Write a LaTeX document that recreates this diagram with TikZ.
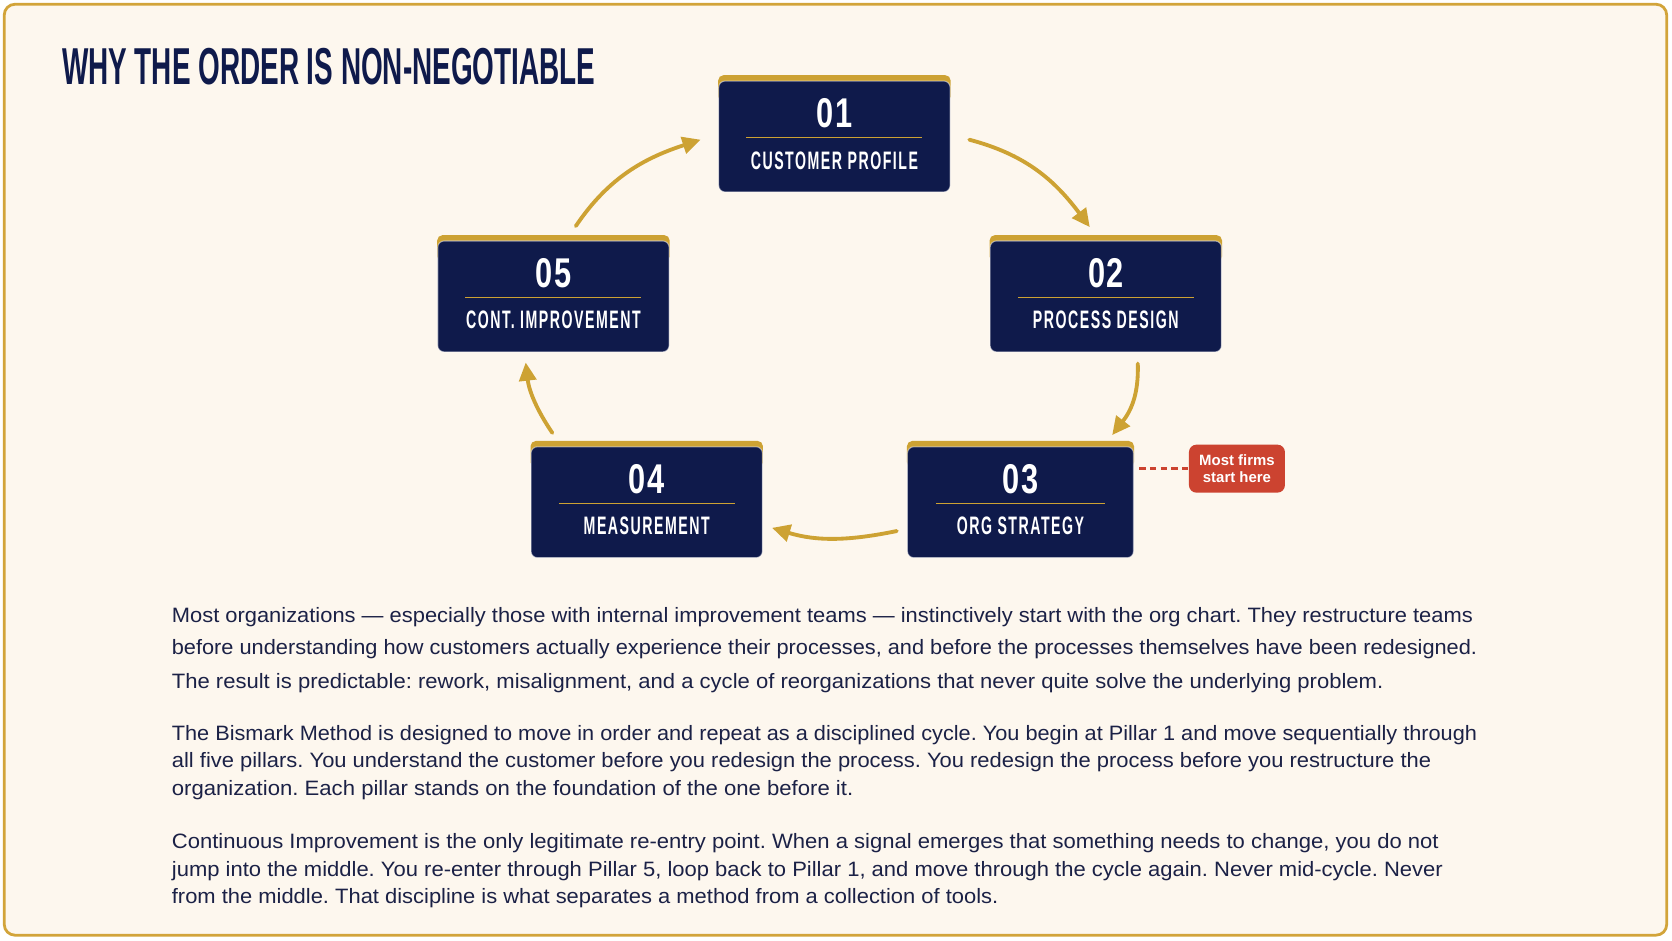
\documentclass[tikz,border=0pt]{standalone}
\usepackage{fontspec}
\usepackage{graphicx}
\usetikzlibrary{arrows.meta,backgrounds,calc}
\setmainfont{Liberation Sans}
\frenchspacing
\newfontfamily\labfont[FakeStretch=0.56, LetterSpace=6]{Liberation Sans}
\newfontfamily\numfont[FakeStretch=0.74, LetterSpace=3]{Liberation Sans}
\definecolor{navy}{HTML}{0F1A4B}
\definecolor{gold}{HTML}{CDA233}
\definecolor{bordergold}{HTML}{D2A43A}
\definecolor{cream}{HTML}{FDF7EE}
\definecolor{bodytext}{HTML}{1B2146}
\definecolor{alertred}{HTML}{CC4330}
\newcommand\pnum[1]{{\numfont\bfseries\fontsize{39}{39}\selectfont #1}}
\newcommand\plab[1]{{\labfont\bfseries\fontsize{23.7}{24}\selectfont #1}}
\newcommand\bline[2]{\resizebox{#1}{\height}{#2}}
\tikzset{
  pillar/.style={fill=navy, rounded corners=6pt, minimum width=217pt, minimum height=104pt, inner sep=0pt, draw=white, draw opacity=0.5, line width=1pt},
  numtxt/.style={text=white, inner sep=0pt, anchor=base},
  labtxt/.style={text=white, inner sep=0pt, anchor=base},
  flow/.style={draw=gold, line width=3.6pt, line cap=round, -{Triangle[length=17pt,width=16pt]}},
  bodyline/.style={text=bodytext, inner sep=0pt, anchor=base west, font=\fontsize{19.5}{22}\selectfont},
  alert/.style={fill=alertred, rounded corners=7pt, minimum width=90pt, minimum height=45pt, inner sep=0pt, text=white, align=center, font=\bfseries\fontsize{14}{16}\selectfont},
}
\newcommand\pillarcontent[4]{%
  % #1 node name, #2 number, #3 label, #4 half divider width
  \begin{pgfonlayer}{background}
    \fill[gold, rounded corners=5pt] ([yshift=5pt]#1.north west) rectangle ([yshift=-20pt]#1.north east);
  \end{pgfonlayer}
  \draw[gold, line width=1.4pt] ([xshift=-#4pt, yshift=-53.5pt]#1.north) -- ([xshift=#4pt, yshift=-53.5pt]#1.north);
  \node[numtxt] (#1n) at ([yshift=-44pt]#1.north) {\pnum{#2}};
  \node[labtxt] (#1l) at ([yshift=-83pt]#1.north) {\plab{#3}};
}
\begin{document}
\begin{tikzpicture}[x=1pt, y=-1pt]
\useasboundingbox (0,0) rectangle (1568,882.47);
\begin{pgfonlayer}{background}
\fill[white] (0,0) rectangle (1568,882.47);
\draw[bordergold, line width=2.6pt, rounded corners=10pt, fill=cream] (4,4) rectangle (1563,877);
\end{pgfonlayer}

% title
\node[anchor=base west, inner sep=0pt, text=navy] (title) at (58,79)
  {\resizebox{500pt}{34pt}{\bfseries WHY THE ORDER IS NON-NEGOTIABLE}};

% pillars
\node[pillar] (p1) at (782.5,128) {};
\node[pillar] (p2) at (1037,278) {};
\node[pillar, minimum width=212pt] (p3) at (957,471) {};
\node[pillar] (p4) at (606.5,471) {};
\node[pillar] (p5) at (519,278) {};
\pillarcontent{p1}{01}{CUSTOMER PROFILE}{82.5}
\pillarcontent{p2}{02}{PROCESS DESIGN}{82.5}
\pillarcontent{p3}{03}{ORG STRATEGY}{79}
\pillarcontent{p4}{04}{MEASUREMENT}{82.5}
\pillarcontent{p5}{05}{CONT. IMPROVEMENT}{82.5}

% arrow end points
\coordinate (a1s) at (540,212);   \coordinate (a1e) at (657,131);
\coordinate (a2s) at (909,131);   \coordinate (a2e) at (1022,213);
\coordinate (a3s) at (1067,341);  \coordinate (a3e) at (1043,408);
\coordinate (a4s) at (841,498);   \coordinate (a4e) at (724,495);
\coordinate (a5s) at (518,406);   \coordinate (a5e) at (493,340);

\draw[flow] (a1s) .. controls ($(a1s)+(31,-46)$) and ($(a1e)+(-52,17)$) .. (a1e);
\draw[flow] (a2s) .. controls ($(a2s)+(53,14)$) and ($(a2e)+(-33,-44)$) .. (a2e);
\draw[flow] (a3s) .. controls ($(a3s)+(1,30)$) and ($(a3e)+(17,-22)$) .. (a3e);
\draw[flow] (a4s) .. controls ($(a4s)+(-44,9)$) and ($(a4e)+(43,13)$) .. (a4e);
\draw[flow] (a5s) .. controls ($(a5s)+(-15,-22)$) and ($(a5e)+(3,26)$) .. (a5e);

% alert label
\node[alert] (lab) at (1160,439.5) {Most firms\\start here};
\draw[alertred, line width=2.4pt, dash pattern=on 6pt off 4pt] ([xshift=5pt]p3.east |- lab.west) -- (lab.west);

% body text
\node[bodyline] (t11) at (161,584) {\bline{1220pt}{Most organizations — especially those with internal improvement teams — instinctively start with the org chart. They restructure teams}};
\node[bodyline] (t12) at (161,614) {\bline{1224pt}{before understanding how customers actually experience their processes, and before the processes themselves have been redesigned.}};
\node[bodyline] (t13) at (161,646) {\bline{1136pt}{The result is predictable: rework, misalignment, and a cycle of reorganizations that never quite solve the underlying problem.}};

\node[bodyline] (t21) at (161,694) {\bline{1224pt}{The Bismark Method is designed to move in order and repeat as a disciplined cycle. You begin at Pillar 1 and move sequentially through}};
\node[bodyline] (t22) at (161,720) {\bline{1181pt}{all five pillars. You understand the customer before you redesign the process. You redesign the process before you restructure the}};
\node[bodyline] (t23) at (161,746) {\bline{639pt}{organization. Each pillar stands on the foundation of the one before it.}};

\node[bodyline] (t31) at (161,796) {\bline{1188pt}{Continuous Improvement is the only legitimate re-entry point. When a signal emerges that something needs to change, you do not}};
\node[bodyline] (t32) at (161,822) {\bline{1192pt}{jump into the middle. You re-enter through Pillar 5, loop back to Pillar 1, and move through the cycle again. Never mid-cycle. Never}};
\node[bodyline] (t33) at (161,847) {\bline{775pt}{from the middle. That discipline is what separates a method from a collection of tools.}};
\end{tikzpicture}
\end{document}
